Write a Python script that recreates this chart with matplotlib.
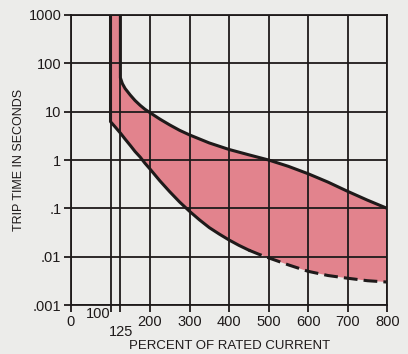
import numpy as np
import matplotlib.pyplot as plt

# percent of rated current vs trip time (s)
upper_x = [125, 125, 130, 137, 150, 162, 175, 187, 200, 225, 250, 275, 300, 350, 400,
           450, 500, 550, 600, 650, 700, 750, 800]
upper_y = [1000, 50, 38, 30, 22, 17, 13.5, 11.2, 9.5, 7.0, 5.3, 4.1, 3.3, 2.25, 1.65,
           1.28, 1.0, 0.74, 0.52, 0.35, 0.225, 0.148, 0.1]

lower_x = [100, 100, 112, 125, 137, 150, 162, 175, 187, 200, 225, 250, 275, 300,
           325, 350, 375, 400, 425, 450]
lower_y = [1000, 6.2, 4.8, 3.6, 2.7, 2.0, 1.5, 1.15, 0.86, 0.65, 0.37, 0.22, 0.135, 0.087,
           0.058, 0.04, 0.0295, 0.0222, 0.0172, 0.0137]

# dashed tail of the lower curve
dash_x = [450, 475, 500, 550, 600, 650, 700, 750, 800]
dash_y = [0.0137, 0.0113, 0.0095, 0.0068, 0.005, 0.0041, 0.0036, 0.0032, 0.003]

x_ticks = [0, 100, 125, 200, 300, 400, 500, 600, 700, 800]
x_labels = ["0", "", "", "200", "300", "400", "500", "600", "700", "800"]
y_ticks = [0.001, 0.01, 0.1, 1, 10, 100, 1000]
y_labels = [".001", ".01", ".1", "1", "10", "100", "1000"]

BG = "#ececea"
PINK = "#e2838d"
INK = "#1e1a1a"

plt.rcParams["font.family"] = ["Liberation Sans", "DejaVu Sans"]

fig = plt.figure(figsize=(4.08, 3.54), dpi=100, facecolor=BG)
ax = fig.add_axes([0.174, 0.138, 0.775, 0.82])
ax.set_facecolor(BG)

ax.set_yscale("log")
ax.set_xlim(0, 800)
ax.set_ylim(0.001, 1000)

# shaded band between the two curves
poly_x = lower_x + dash_x[1:] + upper_x[::-1]
poly_y = lower_y + dash_y[1:] + upper_y[::-1]
ax.fill(poly_x, poly_y, color=PINK, lw=0, zorder=1)

ax.set_xticks(x_ticks)
ax.set_xticklabels(x_labels)
ax.set_yticks(y_ticks)
ax.set_yticklabels(y_labels)
ax.minorticks_off()
ax.grid(True, color=INK, lw=1.3, zorder=2)
ax.set_axisbelow(False)
ax.tick_params(direction="out", length=5, width=1.3, color=INK,
               labelsize=10.5, labelcolor=INK, pad=2)

for s in ax.spines.values():
    s.set_color(INK)
    s.set_linewidth(1.3)

ax.plot(upper_x, upper_y, color=INK, lw=2.2, zorder=3, solid_joinstyle="round")
ax.plot(lower_x, lower_y, color=INK, lw=2.2, zorder=3, solid_joinstyle="round")
ax.plot(dash_x, dash_y, color=INK, lw=2.2, zorder=3, dashes=(4.5, 2))

# crowded labels at 100 and 125
tr = ax.get_xaxis_transform()
ax.text(101, -0.008, "100", transform=tr, ha="right", va="top",
        fontsize=10.5, color=INK)
ax.text(127, -0.068, "125", transform=tr, ha="center", va="top",
        fontsize=10.5, color=INK)

ax.set_xlabel("PERCENT OF RATED CURRENT", fontsize=9.5, color=INK, labelpad=8)
ax.set_ylabel("TRIP TIME IN SECONDS", fontsize=9, color=INK)
ax.yaxis.set_label_coords(-0.145, 0.5)

fig.savefig("out.png", dpi=100, facecolor=BG)
